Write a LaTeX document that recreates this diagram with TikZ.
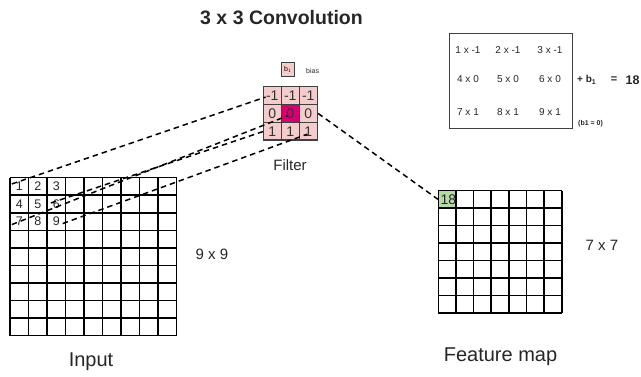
\documentclass[tikz,border=0pt]{standalone}
\usepackage{fontspec}
\setmainfont{Liberation Sans}
\usetikzlibrary{calc}

\definecolor{cellpink}{RGB}{244,204,204}
\definecolor{cellmagenta}{RGB}{214,0,112}
\definecolor{cellgreen}{RGB}{182,215,168}
\definecolor{framegray}{RGB}{64,64,64}

\tikzset{
  gridline/.style={line width=1.6pt, black},
  incell/.style={minimum width=18.5pt, minimum height=17.55pt, inner sep=0pt,
                 font=\fontsize{12.5}{14}\selectfont, text=black!85},
  fcell/.style={draw=framegray, fill=cellpink, line width=1.5pt,
                minimum width=18pt, minimum height=17.8pt, inner sep=0pt,
                font=\fontsize{14}{16}\selectfont, text=black!80},
  ocell/.style={minimum width=17.63pt, minimum height=17.47pt, inner sep=0pt},
  link/.style={line width=1.5pt, dash pattern=on 5.5pt off 4pt, black},
  lbl/.style={inner sep=0pt, text=black!85},
  eq/.style={inner sep=0pt, font=\fontsize{10}{12}\selectfont, text=black!85}
}

\begin{document}
\begin{tikzpicture}[x=1pt, y=-1pt]
\useasboundingbox (0,0) rectangle (641,377);

% title
\node[lbl, font=\bfseries\fontsize{19.5}{22}\selectfont] (title) at (281.5,17.5) {3 x 3 Convolution};

% ---------- input 9 x 9 ----------
\foreach \c in {0,...,9}
  \draw[gridline] ({10+18.5*\c},177.7) -- ({10+18.5*\c},335.65);
\foreach \r in {0,...,9}
  \draw[gridline] (10,{177.7+17.55*\r}) -- (176.5,{177.7+17.55*\r});
\foreach \n [count=\k from 0] in {1,...,9} {
  \pgfmathtruncatemacro{\rr}{int(\k/3)}
  \pgfmathtruncatemacro{\cc}{mod(\k,3)}
  \node[incell] (in\n) at ({10+18.5*(\cc+0.5)},{177.7+17.55*(\rr+0.5)}) {\n};
}
\node[lbl, font=\fontsize{15}{17}\selectfont] (insize) at (212,254) {9 x 9};
\node[lbl, font=\fontsize{20}{23}\selectfont] (inlabel) at (91,362) {Input};

% ---------- filter ----------
\node[fcell] (f11) at (272.3,95.6)  {-1};
\node[fcell] (f12) at (290.3,95.6)  {-1};
\node[fcell] (f13) at (308.3,95.6)  {-1};
\node[fcell] (f21) at (272.3,113.4) {0};
\node[fcell, fill=cellmagenta] (f22) at (290.3,113.4) {0};
\node[fcell] (f23) at (308.3,113.4) {0};
\node[fcell] (f31) at (272.3,131.2) {1};
\node[fcell] (f32) at (290.3,131.2) {1};
\node[fcell] (f33) at (308.3,131.2) {1};
\node[lbl, font=\fontsize{15}{17}\selectfont] (flabel) at (290,165) {Filter};

% bias
\node[draw=framegray, fill=cellpink, line width=1pt, minimum width=12.6pt,
      minimum height=14.4pt, inner sep=0pt, font=\fontsize{7}{8}\selectfont] (bias) at (288,69.5) {b$_1$};
\node[lbl, font=\fontsize{7}{8}\selectfont, anchor=west] (biaslabel) at (306,70.5) {bias};

% ---------- feature map 7 x 7 ----------
\node[ocell, fill=cellgreen] (o11) at (447.1,199.4) {};
\foreach \c in {0,...,7}
  \draw[gridline] ({438.3+17.63*\c},190.7) -- ({438.3+17.63*\c},313);
\foreach \r in {0,...,7}
  \draw[gridline] (438.3,{190.7+17.47*\r}) -- (561.7,{190.7+17.47*\r});
\node[lbl, anchor=west, font=\fontsize{14}{16}\selectfont] (oval) at (440.5,199.6) {18};
\node[lbl, font=\fontsize{15}{17}\selectfont] (outsize) at (602,245) {7 x 7};
\node[lbl, font=\fontsize{20}{23}\selectfont] (outlabel) at (500.5,357) {Feature map};

% ---------- products ----------
\node[draw=framegray, line width=1pt, minimum width=123pt, minimum height=95pt,
      inner sep=0pt] (eqbox) at (510.8,80.8) {};
\node[eq] (p1) at (468,50)    {1 x -1};
\node[eq] (p2) at (508,50)    {2 x -1};
\node[eq] (p3) at (550,50)    {3 x -1};
\node[eq] (p4) at (468,79)    {4 x 0};
\node[eq] (p5) at (508,79)    {5 x 0};
\node[eq] (p6) at (550,79)    {6 x 0};
\node[eq] (p7) at (468,112.3) {7 x 1};
\node[eq] (p8) at (508,112.3) {8 x 1};
\node[eq] (p9) at (550,112.3) {9 x 1};
\node[lbl, anchor=west, font=\bfseries\fontsize{10}{12}\selectfont] (plusb) at (577,80) {+\ b$_\mathbf{1}$};
\node[lbl, font=\bfseries\fontsize{11}{12}\selectfont] (eqsign) at (614,80) {=};
\node[lbl, font=\bfseries\fontsize{12.5}{14}\selectfont] (result) at (632.5,80) {18};
\node[lbl, anchor=west, font=\bfseries\fontsize{7}{8}\selectfont] (bzero) at (578,124) {(b1 = 0)};

% ---------- connectors: patch corners to filter, filter to output ----------
\draw[link] ($(in1.west)+(2,-2.5)$) -- ($(f11.west)+(3,1.5)$);
\draw[link] ($(in7.west)+(2,3)$) -- ($(f22.center)+(-3,2.5)$);
\draw[link] ($(in6.west)+(4,-1)$) -- ($(f31.west)+(1.5,0)$);
\draw[link] ($(in9.east)+(-3,2)$) -- ($(f33.center)+(-1,3)$);
\draw[link] (f23.east) -- (o11.west);
\end{tikzpicture}
\end{document}
